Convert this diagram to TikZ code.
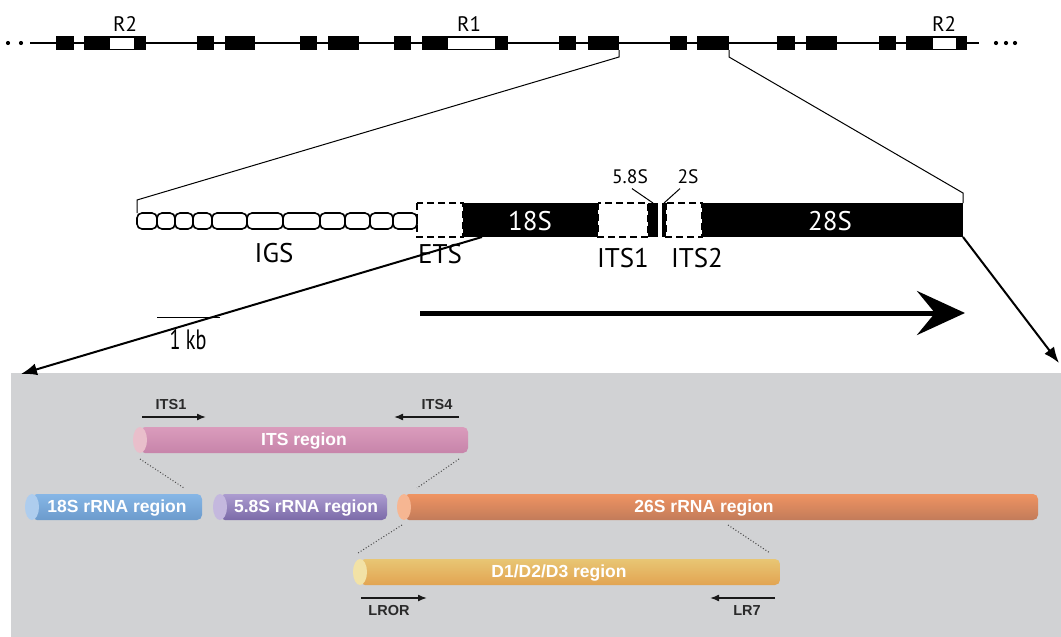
\documentclass[tikz,border=0pt]{standalone}
\usepackage{fontspec}
\setmainfont{PT Sans}
\newfontfamily\arialf{Liberation Sans}
\usetikzlibrary{arrows.meta}
\definecolor{panel}{HTML}{D1D2D4}
\definecolor{itsT}{HTML}{DA9CBC}\definecolor{itsB}{HTML}{C784AA}\definecolor{itsF}{HTML}{E9BFCB}
\definecolor{bluT}{HTML}{86B6E6}\definecolor{bluB}{HTML}{6C9BCC}\definecolor{bluF}{HTML}{AECDEE}
\definecolor{purT}{HTML}{AC9CD0}\definecolor{purB}{HTML}{7B6AA8}\definecolor{purF}{HTML}{C4B8DE}
\definecolor{oraT}{HTML}{EF9462}\definecolor{oraB}{HTML}{C27B5A}\definecolor{oraF}{HTML}{F6B692}
\definecolor{yelT}{HTML}{E8C674}\definecolor{yelB}{HTML}{E2A452}\definecolor{yelF}{HTML}{F2E2A6}
\definecolor{primtxt}{HTML}{2A2A2A}
\newcommand\mycyl[7]{%
  \node[cylb, top color=#5, bottom color=#6, minimum width={#3-#2-7}] (#1) at ({(#2+7+#3)/2},#4) {};
  \fill[#7] ({#2+7},#4) ellipse [x radius=7pt, y radius=13pt];
}
\begin{document}
\begin{tikzpicture}[x=1pt,y=-1pt,
  tbox/.style={fill=black, inner sep=0pt, outer sep=0pt, minimum height=14pt},
  wbox/.style={fill=white, draw=black, line width=1pt, inner sep=0pt, outer sep=0pt, minimum height=12pt},
  link/.style={line width=1pt},
  igs/.style={draw=black, line width=1.6pt, rounded corners=5pt, inner sep=0pt, outer sep=0pt, minimum height=16pt, fill=white},
  dbox/.style={draw=black, line width=1.3pt, dash pattern=on 7pt off 4pt},
  sbox/.style={fill=black, inner sep=0pt, outer sep=0pt, minimum height=34pt},
  midlbl/.style={font=\fontsize{27}{27}\selectfont},
  smlbl/.style={font=\fontsize{19.5}{19.5}\selectfont},
  rlbl/.style={font=\fontsize{21}{21}\selectfont},
  zoomarrow/.style={line width=2pt, -{Latex[length=16pt,width=12pt]}},
  cylb/.style={rounded corners=5pt, inner sep=0pt, outer sep=0pt, minimum height=26pt},
  cyltxt/.style={text=white, font=\arialf\bfseries\fontsize{17.5}{17.5}\selectfont, inner sep=0pt},
  primer/.style={line width=1.5pt, color=black!90, -{Latex[length=9pt,width=7pt]}},
  primlbl/.style={text=primtxt, font=\arialf\bfseries\fontsize{14.5}{14.5}\selectfont, inner sep=0pt},
  dots/.style={line width=1pt, color=black!70, dash pattern=on 1pt off 2pt}
]
\useasboundingbox (0,0) rectangle (1061,637);

% ---------- top chromosome bar ----------
\draw[line width=2pt] (30,43) -- (979,43);
\foreach \p in {8,21,996,1006,1015} \fill (\p,43) circle (2.1pt);
\foreach \n/\a/\b in {1/56/74,2/84/146,3/197/214,4/225/255,5/300/317,6/328/359,7/394/411,8/422/508,9/559/576,10/588/619,11/670/687,12/697/729,13/777/795,14/806/837,15/879/896,16/906/967}
  \node[tbox, minimum width={\b-\a}] (b\n) at ({(\a+\b)/2},43) {};
\node[wbox, minimum width=25pt] (w1) at (121.5,43) {};
\node[wbox, minimum width=48pt] (w2) at (471,43) {};
\node[wbox, minimum width=24pt] (w3) at (944,43) {};
\node[rlbl] (r2a) at (125,24) {R2};
\node[rlbl] (r1) at (469,24) {R1};
\node[rlbl] (r2b) at (944,24) {R2};

% ---------- rDNA unit ----------
\foreach \n/\a/\b in {1/137/157,2/157/175,3/175/193,4/193/212,5/212/247,6/247/283,7/283/320,8/320/345,9/345/370,10/370/393,11/393/417}
  \node[igs, minimum width={\b-\a}] (c\n) at ({(\a+\b)/2},221) {};
\draw[dbox] (417,203) rectangle (463,237);
\draw[dbox] (598,203) rectangle (648,237);
\draw[dbox] (666,203) rectangle (702,237);
\node[sbox, minimum width=135pt] (s18) at (530.5,220) {};
\node[sbox, minimum width=10pt] (s58) at (653,220) {};
\node[sbox, minimum width=4pt] (s2) at (664,220) {};
\node[sbox, minimum width=261pt] (s28) at (832.5,220) {};
\node[midlbl, text=white] (t18) at (530,221) {18S};
\node[midlbl, text=white] (t28) at (830,221) {28S};
\node[midlbl] (tigs) at (274,253) {IGS};
\node[midlbl] (tets) at (440,254) {ETS};
\node[midlbl] (tits1) at (623,258) {ITS1};
\node[midlbl] (tits2) at (697,258) {ITS2};
\node[smlbl] (l58) at (630,177) {5.8S};
\node[smlbl] (l2) at (688,177) {2S};
\draw[link] ([xshift=2pt,yshift=-1pt]l58.south) -- (s58.north);
\draw[link] ([xshift=-8pt,yshift=-1pt]l2.south) -- (s2.north);

% expansion lines
\coordinate (k1) at (619,57);
\coordinate (k2) at (137,200);
\coordinate (k3) at (729,57);
\coordinate (k4) at (963,193);
\draw[link] (b10.south east) -- (k1) -- (k2) -- (c1.north west);
\draw[link] (b12.south east) -- (k3) -- (k4) -- (s28.north east);

% scale bar
\coordinate (sb1) at (157,317);
\coordinate (sb2) at (220,317);
\draw[line width=1pt] (sb1) -- (sb2);
\node (kb) at (188,340) {\scalebox{0.72}[1]{\fontsize{28}{28}\selectfont 1 kb}};

% transcription arrow
\coordinate (ta) at (420,313);
\coordinate (tb) at (965,313);
\draw[line width=5pt, -{Stealth[length=48pt,width=44pt,inset=18pt]}] (ta) -- (tb);

% ---------- bottom panel ----------
\fill[panel] (11,373) rectangle (1061,637);

\coordinate (pl) at (21,374);
\coordinate (pr) at (1059,363);
\draw[zoomarrow] ([xshift=19pt]s18.south west) -- (pl);
\draw[zoomarrow] (s28.south east) -- (pr);

\mycyl{its}{133}{468}{440}{itsT}{itsB}{itsF}
\mycyl{r18}{25}{202}{507}{bluT}{bluB}{bluF}
\mycyl{r58}{213}{387}{507}{purT}{purB}{purF}
\mycyl{r26}{397}{1038}{507}{oraT}{oraB}{oraF}
\mycyl{d13}{353}{780}{572}{yelT}{yelB}{yelF}

\node[cyltxt] (tits) at (304,441) {ITS region};
\node[cyltxt] (t18r) at (117,508) {18S rRNA region};
\node[cyltxt] (t58r) at (306,508) {5.8S rRNA region};
\node[cyltxt] (t26r) at (704,508) {26S rRNA region};
\node[cyltxt] (td13) at (559,573) {D1/D2/D3 region};

% dotted guide lines
\coordinate (g1) at (140,459); \coordinate (g2) at (184,488);
\coordinate (g3) at (459,459); \coordinate (g4) at (417,488);
\coordinate (g5) at (402,525); \coordinate (g6) at (358,553);
\coordinate (g7) at (728,525); \coordinate (g8) at (770,553);
\draw[dots] (g1) -- (g2);
\draw[dots] (g3) -- (g4);
\draw[dots] (g5) -- (g6);
\draw[dots] (g7) -- (g8);

% primers
\coordinate (p1a) at (142,417); \coordinate (p1b) at (206,417);
\coordinate (p4a) at (459,417); \coordinate (p4b) at (394,417);
\coordinate (pla) at (361,598); \coordinate (plb) at (427,598);
\coordinate (p7a) at (775,598); \coordinate (p7b) at (710,598);
\draw[primer] (p1a) -- (p1b);
\draw[primer] (p4a) -- (p4b);
\draw[primer] (pla) -- (plb);
\draw[primer] (p7a) -- (p7b);
\node[primlbl] (lits1) at (171,405) {ITS1};
\node[primlbl] (lits4) at (437,405) {ITS4};
\node[primlbl] (llror) at (389,611) {LROR};
\node[primlbl] (llr7) at (747,611) {LR7};
\end{tikzpicture}
\end{document}
